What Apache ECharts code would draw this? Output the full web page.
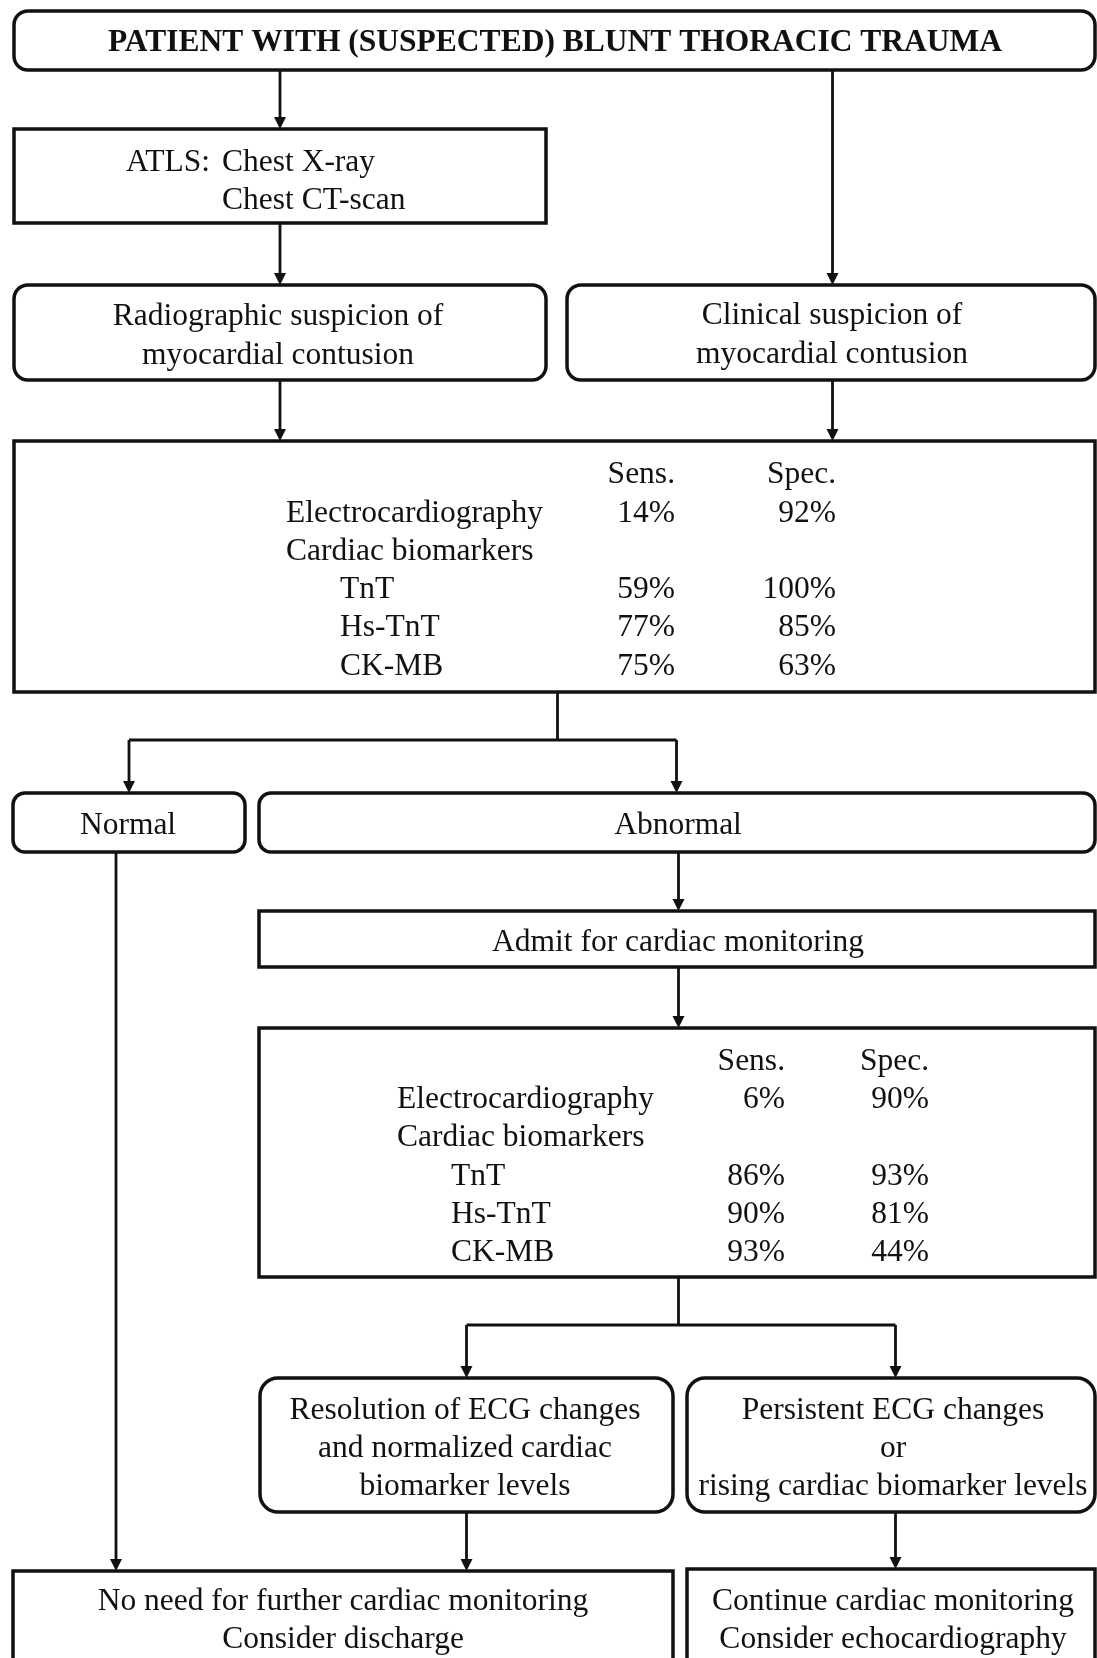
<!DOCTYPE html>
<html>
<head>
<meta charset="utf-8">
<script src="https://cdn.jsdelivr.net/npm/echarts@6/dist/echarts.min.js"></script>
<style>
  html, body { margin: 0; padding: 0; background: #ffffff; }
  #chart { width: 1097px; height: 1658px; }
</style>
</head>
<body>
<div id="chart"></div>
<script>
// ---------------- content (text and values) ----------------
const titleText = 'PATIENT WITH (SUSPECTED) BLUNT THORACIC TRAUMA';
const imagingLabel = 'ATLS:';
const imagingItems = ['Chest X-ray', 'Chest CT-scan'];
const radiographicText = ['Radiographic suspicion of', 'myocardial contusion'];
const clinicalText = ['Clinical suspicion of', 'myocardial contusion'];
const metricHeaders = ['Sens.', 'Spec.'];
const tests = ['Electrocardiography', 'Cardiac biomarkers', 'TnT', 'Hs-TnT', 'CK-MB'];
const sensInitial = [14, null, 59, 77, 75];
const specInitial = [92, null, 100, 85, 63];
const sensFollowUp = [6, null, 86, 90, 93];
const specFollowUp = [90, null, 93, 81, 44];
const outcomeLabels = ['Normal', 'Abnormal'];
const admitText = 'Admit for cardiac monitoring';
const resolutionText = ['Resolution of ECG changes', 'and normalized cardiac', 'biomarker levels'];
const persistentText = ['Persistent ECG changes', 'or', 'rising cardiac biomarker levels'];
const dischargeText = ['No need for further cardiac monitoring', 'Consider discharge'];
const continueText = ['Continue cardiac monitoring', 'Consider echocardiography'];

// ---------------- layout (diagram coordinate space) ----------------
const W = 1097, H = 1658;
const FONT = "'Liberation Serif', 'Times New Roman', Times, serif";
const FS = 31.5;
const LH = 38.3;
const RIGHT = 1095;

// boxes: [x0, y0, x1, y1, radius]
const boxLayout = [
  [14, 11, RIGHT, 70, 14],        // title
  [14, 129, 546, 223, 0],         // ATLS
  [14, 285, 546, 380, 14],        // radiographic
  [567, 285, RIGHT, 380, 14],     // clinical
  [14, 441, RIGHT, 692, 0],       // table 1
  [13, 793, 245, 852, 12],        // normal
  [259, 793, RIGHT, 852, 12],     // abnormal
  [259, 911, RIGHT, 967, 0],      // admit
  [259, 1028, RIGHT, 1277, 0],    // table 2
  [260, 1378, 673, 1512, 18],     // resolution
  [687, 1378, RIGHT, 1512, 18],   // persistent
  [13, 1571, 673, 1700, 0],       // discharge
  [687, 1569, RIGHT, 1700, 0]     // continue
];

// connectors: [points..., arrowAtEnd]
const connectorLayout = [
  [[[280, 70], [280, 129]], true],
  [[[832.5, 70], [832.5, 285]], true],
  [[[280, 223], [280, 285]], true],
  [[[280, 380], [280, 441]], true],
  [[[832.5, 380], [832.5, 441]], true],
  [[[557.5, 692], [557.5, 740]], false],
  [[[129, 740], [676.5, 740]], false],
  [[[129, 740], [129, 793]], true],
  [[[676.5, 740], [676.5, 793]], true],
  [[[116, 852], [116, 1571]], true],
  [[[678.5, 852], [678.5, 911]], true],
  [[[678.5, 967], [678.5, 1028]], true],
  [[[678.5, 1277], [678.5, 1325]], false],
  [[[466.5, 1325], [895.5, 1325]], false],
  [[[466.5, 1325], [466.5, 1378]], true],
  [[[895.5, 1325], [895.5, 1378]], true],
  [[[466.5, 1512], [466.5, 1571]], true],
  [[[895.5, 1512], [895.5, 1569]], true]
];

// ---------------- build text items ----------------
// each: [x, y, text, align, bold]
const textItems = [];
function addLines(lines, cx, cy0) {
  lines.forEach((t, i) => textItems.push([cx, cy0 + i * LH, t, 'center', 0]));
}
textItems.push([555, 43, titleText, 'center', 1]);
textItems.push([126, 163, imagingLabel, 'left', 0]);
imagingItems.forEach((t, i) => textItems.push([222, 163 + i * 37.5, t, 'left', 0]));
addLines(radiographicText, 278, 317);
addLines(clinicalText, 832, 316);

function addTable(x0, xSub, xSens, xSpec, yHead, sens, spec) {
  textItems.push([xSens, yHead, metricHeaders[0], 'right', 0]);
  textItems.push([xSpec, yHead, metricHeaders[1], 'right', 0]);
  tests.forEach((t, i) => {
    const y = yHead + (i + 1) * LH;
    const sub = i >= 2;
    textItems.push([sub ? xSub : x0, y, t, 'left', 0]);
    if (sens[i] != null) textItems.push([xSens, y, sens[i] + '%', 'right', 0]);
    if (spec[i] != null) textItems.push([xSpec, y, spec[i] + '%', 'right', 0]);
  });
}
addTable(286, 340, 675, 836, 475, sensInitial, specInitial);
addTable(397, 451, 785, 929, 1061.5, sensFollowUp, specFollowUp);

textItems.push([128, 826, outcomeLabels[0], 'center', 0]);
textItems.push([678, 826, outcomeLabels[1], 'center', 0]);
textItems.push([678, 943, admitText, 'center', 0]);
addLines(resolutionText, 465, 1410.5);
addLines(persistentText, 893, 1410.5);
addLines(dischargeText, 343, 1601.5);
addLines(continueText, 893, 1601.5);

// ---------------- chart ----------------
const chart = echarts.init(document.getElementById('chart'), null, { renderer: 'canvas' });

const option = {
  backgroundColor: '#ffffff',
  animation: false,
  grid: { left: 0, right: 0, top: 0, bottom: 0 },
  xAxis: { type: 'value', min: 0, max: W, show: false },
  yAxis: { type: 'value', min: 0, max: H, inverse: true, show: false },
  series: [
    {
      type: 'custom',
      name: 'boxes',
      coordinateSystem: 'cartesian2d',
      silent: true,
      data: boxLayout,
      renderItem: function (params, api) {
        const p0 = api.coord([api.value(0), api.value(1)]);
        const p1 = api.coord([api.value(2), api.value(3)]);
        return {
          type: 'rect',
          shape: { x: p0[0], y: p0[1], width: p1[0] - p0[0], height: p1[1] - p0[1], r: api.value(4) },
          style: { fill: '#ffffff', stroke: '#111111', lineWidth: 3.5 }
        };
      }
    },
    {
      type: 'custom',
      name: 'connectors',
      coordinateSystem: 'cartesian2d',
      silent: true,
      data: connectorLayout.map((c, i) => [i]),
      renderItem: function (params, api) {
        const c = connectorLayout[params.dataIndex];
        const pts = c[0].map(p => api.coord(p));
        const children = [];
        const last = pts[pts.length - 1];
        const prev = pts[pts.length - 2];
        let linePts = pts.slice();
        if (c[1]) {
          const dx = last[0] - prev[0], dy = last[1] - prev[1];
          const len = Math.sqrt(dx * dx + dy * dy);
          const ux = dx / len, uy = dy / len;
          const hl = 12, hw = 6;
          const base = [last[0] - ux * hl, last[1] - uy * hl];
          linePts = pts.slice(0, -1).concat([[last[0] - ux * (hl - 2), last[1] - uy * (hl - 2)]]);
          children.push({
            type: 'polygon',
            shape: { points: [last, [base[0] - uy * hw, base[1] + ux * hw], [base[0] + uy * hw, base[1] - ux * hw]] },
            style: { fill: '#111111' }
          });
        }
        children.unshift({
          type: 'polyline',
          shape: { points: linePts },
          style: { stroke: '#111111', lineWidth: 2.8, fill: null }
        });
        return { type: 'group', children: children };
      }
    },
    {
      type: 'custom',
      name: 'texts',
      coordinateSystem: 'cartesian2d',
      silent: true,
      data: textItems.map((t, i) => [t[0], t[1], i]),
      renderItem: function (params, api) {
        const t = textItems[params.dataIndex];
        const p = api.coord([t[0], t[1]]);
        return {
          type: 'text',
          x: p[0],
          y: p[1],
          style: {
            text: t[2],
            fill: '#111111',
            fontSize: FS,
            fontFamily: FONT,
            fontWeight: t[4] ? 'bold' : 'normal',
            align: t[3],
            verticalAlign: 'middle'
          }
        };
      }
    }
  ]
};
chart.setOption(option);
</script>
</body>
</html>
